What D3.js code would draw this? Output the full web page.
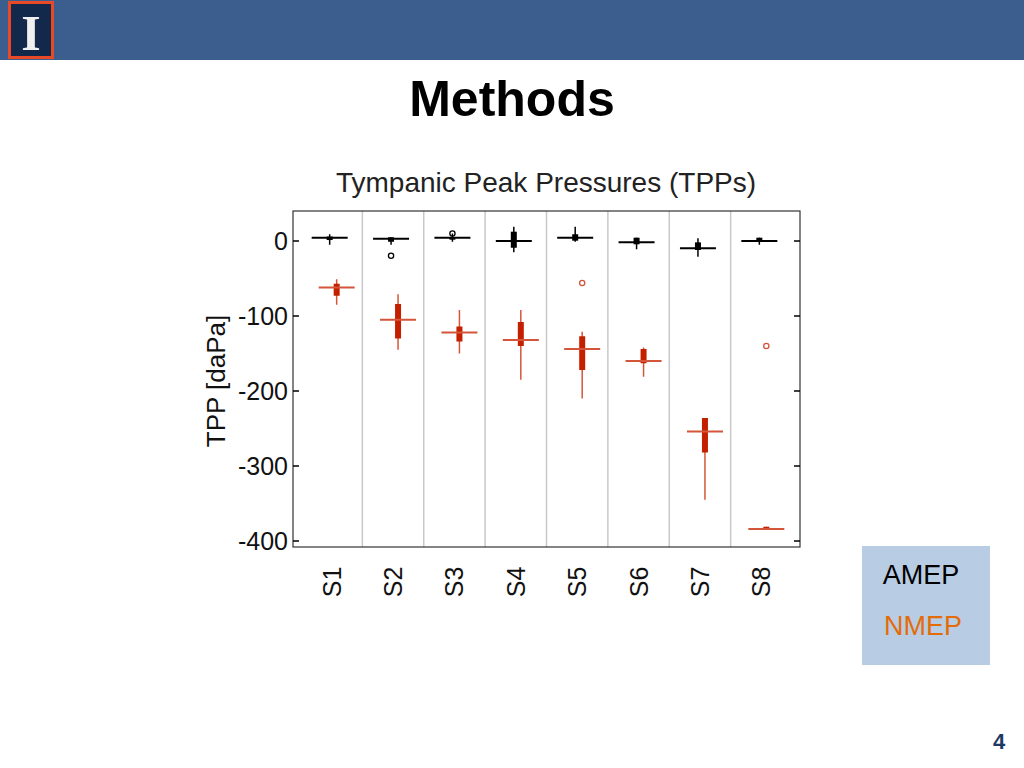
<!DOCTYPE html>
<html><head><meta charset="utf-8">
<script src="https://cdn.jsdelivr.net/npm/d3@7"></script>
<style>body{margin:0;background:#fff;font-family:Arial,"Liberation Sans",sans-serif}</style>
</head><body>
<svg id="c" width="1024" height="768"></svg>
<script>
// values, dPa
var subjects = ['S1','S2','S3','S4','S5','S6','S7','S8'];
var yTicks = [0, -100, -200, -300, -400];
// [whiskerHigh, q3, median, q1, whiskerLow]
var amep = [
  [9, 6, 4.4, 1.3, -5], [5, 5, 3, -1, -5], [10, 4.4, 4.4, 4, -1], [19, 12.4, 0, -9, -15],
  [19, 9, 4.4, 0.4, -1], [4.4, 4.4, -1.8, -4.4, -11], [3.6, -1.8, -9.8, -12, -21], [4.4, 4.4, 0, -1, -5]
];
var nmep = [
  [-51, -57, -62, -73, -85], [-71, -84, -105, -130, -145], [-92, -114, -122, -134, -150], [-92, -108, -132, -140, -185],
  [-121, -127, -144, -172, -210], [-142, -144, -160, -163, -181], [-236, -236, -254, -282, -345], [-381, -381, -384, -384, -384]
];
var amepOutliers = [[1, -19.6], [2, 10]];
var nmepOutliers = [[4, -56], [7, -140]];

var svg = d3.select('#c');

// slide chrome
svg.append('rect').attr('width', 1024).attr('height', 60).attr('fill', '#3b5e8e');
svg.append('rect').attr('x', 8).attr('y', 1).attr('width', 46).attr('height', 58).attr('fill', '#e84a27');
svg.append('rect').attr('x', 11).attr('y', 4).attr('width', 40).attr('height', 52).attr('fill', '#13294b');
svg.append('text').attr('x', 31).attr('y', 50).attr('text-anchor', 'middle').attr('font-family', 'Liberation Serif')
  .attr('font-size', 50).attr('font-weight', 'bold').attr('fill', '#f0f0f0').text('I');
svg.append('text').attr('x', 512).attr('y', 116).attr('text-anchor', 'middle')
  .attr('font-size', 50).attr('font-weight', 'bold').attr('fill', '#000').text('Methods');
svg.append('text').attr('x', 546).attr('y', 192).attr('text-anchor', 'middle')
  .attr('font-size', 28).attr('fill', '#222').text('Tympanic Peak Pressures (TPPs)');
svg.append('text').attr('x', 999).attr('y', 749).attr('text-anchor', 'middle')
  .attr('font-size', 22).attr('font-weight', 'bold').attr('fill', '#1f3864').text('4');

svg.append('rect').attr('x', 862).attr('y', 546).attr('width', 128).attr('height', 119).attr('fill', '#b8cce4');
svg.append('text').attr('x', 921).attr('y', 584).attr('text-anchor', 'middle').attr('font-size', 27).attr('fill', '#000').text('AMEP');
svg.append('text').attr('x', 923).attr('y', 635).attr('text-anchor', 'middle').attr('font-size', 27).attr('fill', '#e36c09').text('NMEP');

// plot
var L = 293, R = 800, T = 211, B = 547;
var y = d3.scaleLinear().domain([-408, 40]).range([B, T]);
var x = d3.scalePoint().domain(subjects).range([L, R]).padding(0.63);
var step = x.step();

var g = svg.append('g');
subjects.slice(1).forEach(function(s) {
  var sx = x(s) - step / 2;
  g.append('line').attr('x1', sx).attr('x2', sx).attr('y1', T).attr('y2', B).attr('stroke', '#c8c8c8').attr('stroke-width', 1.5);
});
g.append('rect').attr('x', L).attr('y', T).attr('width', R - L).attr('height', B - T)
  .attr('fill', 'none').attr('stroke', '#333').attr('stroke-width', 1.2);

yTicks.forEach(function(t) {
  g.append('line').attr('x1', L).attr('x2', L + 6).attr('y1', y(t)).attr('y2', y(t)).attr('stroke', '#000').attr('stroke-width', 1.5);
  g.append('line').attr('x1', R - 6).attr('x2', R).attr('y1', y(t)).attr('y2', y(t)).attr('stroke', '#000').attr('stroke-width', 1.5);
  g.append('text').attr('x', L - 5).attr('y', y(t) + 9).attr('text-anchor', 'end')
    .attr('font-size', 25).attr('fill', '#111').text(t);
});
svg.append('text').attr('transform', 'translate(225,' + ((T + B) / 2 + 2) + ') rotate(-90)')
  .attr('text-anchor', 'middle').attr('font-size', 26).attr('fill', '#111').text('TPP [daPa]');
subjects.forEach(function(s) {
  svg.append('text').attr('transform', 'translate(' + (x(s) + 9) + ',582) rotate(-90)')
    .attr('text-anchor', 'middle').attr('font-size', 25).attr('fill', '#111').text(s);
});

function drawBoxes(data, outl, box, line, dx) {
  data.forEach(function(d, i) {
    var cx = x(subjects[i]) + dx;
    g.append('line').attr('x1', cx).attr('x2', cx).attr('y1', y(d[0])).attr('y2', y(d[4])).attr('stroke', line).attr('stroke-width', 1.5);
    g.append('rect').attr('x', cx - 3).attr('width', 6).attr('y', y(d[1]))
      .attr('height', Math.max(2, y(d[3]) - y(d[1]))).attr('fill', box);
    g.append('line').attr('x1', cx - 18).attr('x2', cx + 18).attr('y1', y(d[2])).attr('y2', y(d[2])).attr('stroke', line).attr('stroke-width', 2);
  });
  outl.forEach(function(o) {
    g.append('circle').attr('cx', x(subjects[o[0]]) + dx).attr('cy', y(o[1])).attr('r', 2.6)
      .attr('fill', 'none').attr('stroke', line).attr('stroke-width', 1.3);
  });
}
drawBoxes(amep, amepOutliers, '#000', '#000', -2);
drawBoxes(nmep, nmepOutliers, '#c42000', '#d4553a', 5);
</script>
</body></html>
